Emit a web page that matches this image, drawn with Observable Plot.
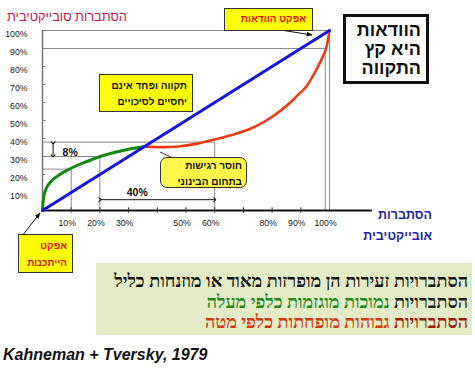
<!DOCTYPE html>
<html>
<head>
<meta charset="utf-8">
<script src="https://cdn.jsdelivr.net/npm/d3@7"></script>
<script src="https://cdn.jsdelivr.net/npm/@observablehq/plot@0.6"></script>
<style>
  html, body { margin: 0; padding: 0; background: #fff; }
  #wrap { position: relative; width: 475px; height: 370px; overflow: hidden; background: #fff; }
  #wrap > svg { position: absolute; left: 0; top: 0; }
  .ov { position: absolute; box-sizing: border-box; font-family: "Liberation Sans", Arial, sans-serif; direction: rtl; white-space: nowrap; }
  .ybox { background: #ffff00; border: 1.5px solid #333; font-weight: bold; text-align: right; }
</style>
</head>
<body>
<div id="wrap"></div>
<script>
// ---- data ----
const yTicks = [0.1, 0.2, 0.3, 0.4, 0.5, 0.6, 0.7, 0.8, 0.9, 1.0];
const xTickMarks = [0.1, 0.2, 0.3, 0.4, 0.5, 0.6, 0.7, 0.8, 0.9];
const xLabelValues = [0.1, 0.2, 0.3, 0.5, 0.6, 0.8, 0.9, 1.0];

// objective probability = decision weight (diagonal)
const blueX = [0, 1];
const blueY = [0, 1];

// low probabilities overweighted
const greenX = [0, 0.002, 0.005, 0.01, 0.017, 0.028, 0.041, 0.06, 0.089, 0.12, 0.16, 0.2, 0.25, 0.3, 0.36];
const greenY = [0, 0.045, 0.08, 0.11, 0.135, 0.158, 0.178, 0.2, 0.226, 0.25, 0.275, 0.30, 0.322, 0.34, 0.355];

// high probabilities underweighted
const redX = [0.36, 0.42, 0.475, 0.534, 0.595, 0.66, 0.724, 0.78, 0.83, 0.87, 0.894, 0.92, 0.94, 0.96, 0.976, 0.988, 0.995, 1];
const redY = [0.355, 0.352, 0.356, 0.37, 0.393, 0.42, 0.454, 0.5, 0.556, 0.61, 0.648, 0.69, 0.741, 0.8, 0.852, 0.9, 0.95, 1];

// reference guides: objective p and its weight
const refX = [0.1, 0.2, 0.6];
const refY = [0.23, 0.30, 0.38];

// certainty guides
const certX = [0.985, 1.0];
const certY = [0.9, 1.0];

const diffLabel = "8%";
const spanLabel = "40%";

// ---- build ----
const pct = d3.format(".0%");
const blue = blueX.map((x, i) => ({x, y: blueY[i]}));
const green = greenX.map((x, i) => ({x, y: greenY[i]}));
const red = redX.map((x, i) => ({x, y: redY[i]}));
const refs = refX.map((x, i) => ({x, y: refY[i]}));
const certs = certX.map((x, i) => ({x, y: certY[i]}));
const gray = "#8a8a8a";

const chart = Plot.plot({
  width: 475,
  height: 370,
  marginLeft: 42, marginRight: 145, marginTop: 30, marginBottom: 160,
  x: {domain: [0, 1], range: [42, 329], axis: null},
  y: {domain: [0, 1], range: [210, 30], axis: null},
  style: {background: "transparent", fontFamily: "'Liberation Sans', Arial, sans-serif", overflow: "visible"},
  marks: [
    // reference guides
    Plot.ruleY(refs, {y: "y", x1: 0, x2: "x", stroke: gray, strokeWidth: 1}),
    Plot.ruleX(refs, {x: "x", y1: 0, y2: "y", stroke: gray, strokeWidth: 1}),
    Plot.ruleY(certs, {y: "y", x1: 0, x2: "x", stroke: gray, strokeWidth: 1}),
    Plot.ruleX(certs, {x: "x", y1: 0, y2: "y", stroke: gray, strokeWidth: 1}),
    // y axis
    Plot.ruleX([0], {y1: 0, y2: 1, stroke: "#777", strokeWidth: 1.5}),
    Plot.ruleY(yTicks, {y: d => d, x1: 0, x2: 0.012, stroke: "#777", strokeWidth: 1}),
    Plot.text(yTicks, {x: 0, y: d => d, text: d => pct(d), textAnchor: "end", dx: -15, dy: 4, fontSize: 8.7, fill: "#222"}),
    // x axis
    Plot.ruleY([0], {x1: 0, x2: 1.15, stroke: "#111", strokeWidth: 1.8}),
    Plot.ruleX(xTickMarks, {x: d => d, y1: -0.015, y2: 0.015, stroke: "#333", strokeWidth: 1}),
    Plot.text(xLabelValues, {x: d => d, y: 0, text: d => pct(d), dy: 13, dx: -4, fontSize: 8.7, fill: "#222"}),
    // curves
    Plot.line(green, {x: "x", y: "y", stroke: "#148a14", strokeWidth: 3, curve: "monotone-x"}),
    Plot.line(red, {x: "x", y: "y", stroke: "#ee3a12", strokeWidth: 2.6, curve: "monotone-x"}),
    Plot.line(blue, {x: "x", y: "y", stroke: "#1414e6", strokeWidth: 3}),
    // 8% difference arrow
    Plot.link([refs], {x1: 0.037, x2: 0.037, y1: d => d[2].y - 0.004, y2: d => d[1].y + 0.004, stroke: "#111", strokeWidth: 1, markerStart: "arrow", markerEnd: "arrow"}),
    Plot.text([diffLabel], {x: 0.07, y: (refY[1] + refY[2]) / 2, text: d => d, textAnchor: "start", dy: 3, fontSize: 10.5, fontWeight: "bold", fill: "#111"}),
    // 40% span arrow
    Plot.link([refs], {x1: d => d[1].x, x2: d => d[2].x, y1: 0.06, y2: 0.06, stroke: "#111", strokeWidth: 1, markerStart: "arrow", markerEnd: "arrow"}),
    Plot.text([spanLabel], {x: 0.33, y: 0.1, text: d => d, fontSize: 10.5, fontWeight: "bold", fill: "#111"})
  ]
});

const wrap = document.getElementById("wrap");
wrap.appendChild(chart);

// ---- annotations (HTML + connectors) ----
wrap.insertAdjacentHTML("beforeend", `
<svg width="475" height="370" style="position:absolute;left:0;top:0;pointer-events:none">
  <defs>
    <marker id="ah" viewBox="0 0 10 10" refX="9" refY="5" markerWidth="6" markerHeight="6" orient="auto">
      <path d="M0,1 L10,5 L0,9 z" fill="#111"/>
    </marker>
  </defs>
  <line x1="268" y1="28" x2="312" y2="35" stroke="#111" stroke-width="1" marker-end="url(#ah)"/>
  <line x1="22" y1="236" x2="40" y2="213" stroke="#111" stroke-width="1" marker-end="url(#ah)"/>
  <line x1="160" y1="152" x2="173" y2="158" stroke="#333" stroke-width="1"/>
</svg>
<div class="ov" style="left:7px;top:9px;font-size:12.8px;color:#d0104e;">הסתברות סובייקטיבית</div>
<div class="ov ybox" style="left:224px;top:8px;width:89px;height:23px;font-size:10px;line-height:20px;padding-right:6px;color:#e01010;">אפקט הוודאות</div>
<div class="ov" style="left:343px;top:14px;width:86px;height:70px;border:3px solid #111;background:#fff;font-weight:bold;font-size:18px;line-height:19px;text-align:right;padding:4px 5px 0 0;color:#111;">הוודאות<br>היא קץ<br>התקווה</div>
<div class="ov ybox" style="left:99px;top:74px;width:94px;height:38px;font-size:10px;line-height:16px;padding:3px 5px 0 0;color:#111;">תקווה ופחד אינם<br>יחסיים לסיכויים</div>
<div class="ov ybox" style="left:160px;top:157px;width:87px;height:31px;border-radius:7px;border-width:1px;font-size:10px;line-height:15.5px;padding:0 4px 0 0;color:#111;background:#fff84a;">חוסר רגישות<br>בתחום הבינוני</div>
<div class="ov ybox" style="left:18px;top:234px;width:55px;height:39px;font-size:10px;line-height:17px;padding:2px 5px 0 0;color:#e01010;">אפקט<br>הייתכנות</div>
<div class="ov" style="left:340px;top:205px;width:92px;font-size:12.5px;font-weight:bold;line-height:21px;text-align:right;color:#1c2aa0;">הסתברות<br>אובייקטיבית</div>
<div class="ov" style="left:96px;top:263px;width:376px;height:72px;background:#e3ecc6;font-family:'Liberation Serif','DejaVu Serif',serif;font-weight:bold;font-size:18px;line-height:20.5px;text-align:right;padding:8px 4px 0 0;color:#111;">
<span>הסתברויות זעירות הן מופרזות מאוד או מוזנחות כליל</span><br>
<span style="color:#1e1e1e">הסתברויות</span> <span style="color:#238a1e">נמוכות מוגזמות כלפי מעלה</span><br>
<span style="color:#9a1e0c">הסתברויות</span> <span style="color:#d23a12">גבוהות מופחתות כלפי מטה</span></div>
<div class="ov" style="left:3px;top:346px;direction:ltr;font-size:16px;font-weight:bold;font-style:italic;color:#111;">Kahneman + Tversky, 1979</div>
`);
</script>
</body>
</html>
